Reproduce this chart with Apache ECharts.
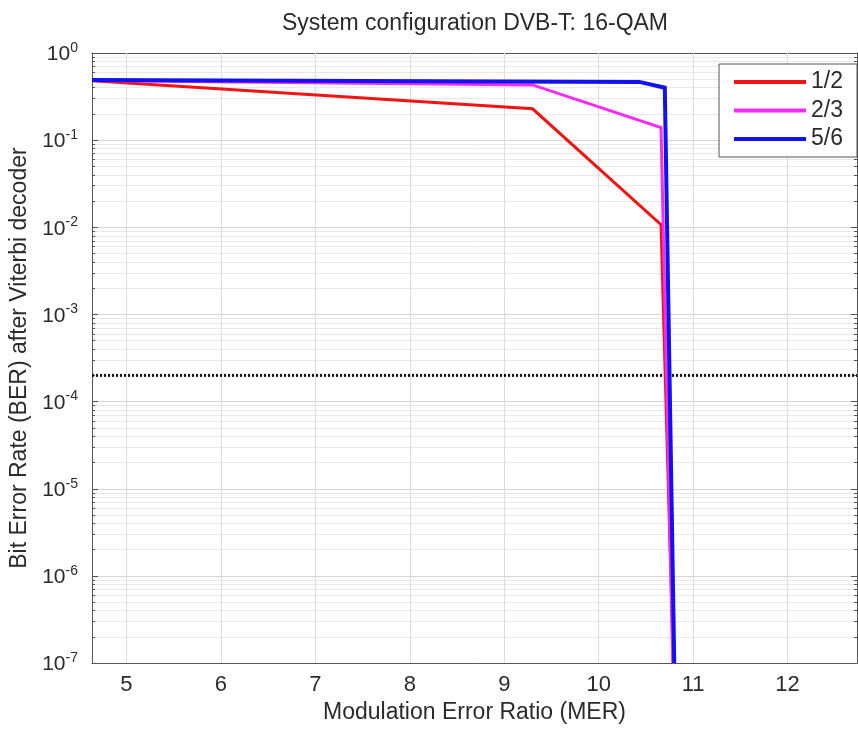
<!DOCTYPE html>
<html><head><meta charset="utf-8">
<script src="https://cdn.jsdelivr.net/npm/echarts@6/dist/echarts.min.js"></script>
<style>html,body{margin:0;padding:0;background:#fff}#c{width:858px;height:729px}</style>
</head><body><div id="c"></div>
<script>
// ---- data ----
const xMin = 4.635, xMax = 12.735;
const xTickValues = [5, 6, 7, 8, 9, 10, 11, 12];
const yMin = 1e-7, yMax = 1;
const seriesNames = ['1/2', '2/3', '5/6'];
const seriesColors = ['#f01414', '#f52cf5', '#1212ee'];
const mer12 = [4.635, 9.30, 10.66, 10.79];
const ber12 = [0.48, 0.229, 0.0107, 1e-7];
const mer23 = [4.635, 9.30, 10.66, 10.785];
const ber23 = [0.485, 0.43, 0.139, 1e-7];
const mer56 = [4.635, 10.43, 10.70, 10.80];
const ber56 = [0.49, 0.466, 0.40, 1e-7];
const thresholdMer = [4.635, 12.735];
const thresholdBer = [2e-4, 2e-4];

const FONT = "'Liberation Sans', Arial, sans-serif";
const TXT = '#2b2b2b';
const zip = (xs, ys) => xs.map((x, i) => [x, ys[i]]);

const chart = echarts.init(document.getElementById('c'), null, {renderer: 'canvas'});

const yLabelFmt = v => {
  const e = Math.round(Math.log10(v));
  return '{b|10}{s|' + e + '}';
};

const lineSeries = (name, xs, ys, color, width, z) => ({
  name, type: 'line', data: zip(xs, ys), showSymbol: false, symbol: 'none',
  lineStyle: {color, width, join: 'miter'}, itemStyle: {color}, z, animation: false,
  clip: true
});

const option = {
  animation: false,
  backgroundColor: '#fff',
  title: {
    text: 'System configuration DVB-T: 16-QAM',
    left: 277, top: 7,
    textStyle: {fontFamily: FONT, fontSize: 23, fontWeight: 'normal', color: TXT}
  },
  grid: {left: 92, right: 1, top: 53, bottom: 64, containLabel: false},
  legend: {
    data: seriesNames.map(n => ({name: n, icon: 'rect'})),
    orient: 'vertical', right: 1, top: 64,
    itemWidth: 72, itemHeight: 4, itemGap: 4.5,
    padding: [6, 14, 6, 15],
    backgroundColor: '#fff', borderColor: '#555', borderWidth: 1,
    selectedMode: false,
    textStyle: {fontFamily: FONT, fontSize: 23, color: TXT, lineHeight: 24}
  },
  xAxis: [{
    type: 'value', min: xMin, max: xMax, position: 'bottom',
    name: 'Modulation Error Ratio (MER)', nameLocation: 'middle', nameGap: 36,
    nameTextStyle: {fontFamily: FONT, fontSize: 23, color: TXT},
    axisLine: {show: true, lineStyle: {color: '#555', width: 1}},
    axisTick: {show: true, inside: true, length: 5, customValues: xTickValues, lineStyle: {color: '#555'}},
    axisLabel: {customValues: xTickValues, fontFamily: FONT, fontSize: 22, color: TXT, margin: 11},
    splitLine: {show: false}
  }, {
    type: 'value', min: xMin, max: xMax, position: 'top',
    axisLine: {show: true, lineStyle: {color: '#555', width: 1}},
    axisTick: {show: true, inside: true, length: 5, customValues: xTickValues, lineStyle: {color: '#555'}},
    axisLabel: {show: false},
    splitLine: {show: false}
  }],
  yAxis: [{
    type: 'log', logBase: 10, min: yMin, max: yMax, position: 'left',
    name: 'Bit Error Rate (BER) after Viterbi decoder', nameLocation: 'middle', nameGap: 58,
    nameRotate: 90,
    nameTextStyle: {fontFamily: FONT, fontSize: 23, color: TXT},
    axisLine: {show: true, lineStyle: {color: '#555', width: 1}},
    axisTick: {show: true, inside: true, length: 6, lineStyle: {color: '#555'}},
    minorTick: {show: true, splitNumber: 9, length: 3, lineStyle: {color: '#555'}},
    minorSplitLine: {show: true, lineStyle: {color: '#e9e9e9', width: 1}},
    splitLine: {show: true, lineStyle: {color: '#d6d6d6', width: 1}},
    axisLabel: {
      formatter: yLabelFmt, margin: 14,
      rich: {
        b: {fontFamily: FONT, fontSize: 21, color: TXT, verticalAlign: 'bottom', lineHeight: 24},
        s: {fontFamily: FONT, fontSize: 14, color: TXT, verticalAlign: 'top', lineHeight: 8}
      }
    }
  }, {
    type: 'log', logBase: 10, min: yMin, max: yMax, position: 'right',
    axisLine: {show: true, lineStyle: {color: '#555', width: 1}},
    axisTick: {show: true, inside: true, length: 6, lineStyle: {color: '#555'}},
    minorTick: {show: true, splitNumber: 9, length: 3, lineStyle: {color: '#555'}},
    axisLabel: {show: false},
    splitLine: {show: false}
  }],
  series: [
    {
      name: 'threshold', type: 'line', data: zip(thresholdMer, thresholdBer),
      showSymbol: false, symbol: 'none', z: 3,
      lineStyle: {color: '#151515', width: 3, type: [2, 2]},
      // vertical grid lines at the x tick values
      markLine: {
        silent: true, symbol: 'none', z: 1, animation: false,
        label: {show: false},
        lineStyle: {color: '#dcdcdc', width: 1, type: 'solid'},
        data: xTickValues.map(v => ({xAxis: v}))
      }
    },
    lineSeries(seriesNames[0], mer12, ber12, seriesColors[0], 3, 5),
    lineSeries(seriesNames[1], mer23, ber23, seriesColors[1], 3, 6),
    lineSeries(seriesNames[2], mer56, ber56, seriesColors[2], 4, 7)
  ]
};
chart.setOption(option);
</script>
</body></html>
